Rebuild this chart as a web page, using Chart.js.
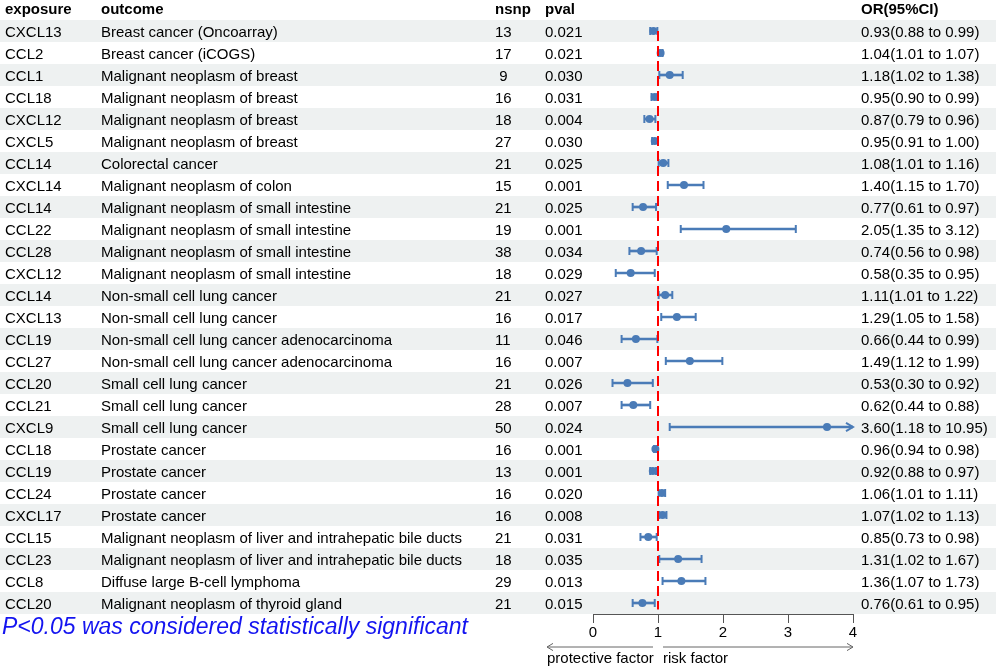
<!DOCTYPE html>
<html>
<head>
<meta charset="utf-8">
<title>Forest plot</title>
<script src="https://cdn.jsdelivr.net/npm/chart.js@4.4.1/dist/chart.umd.min.js"></script>
<style>
  html, body { margin: 0; padding: 0; background: #fff; }
  canvas { display: block; }
</style>
</head>
<body>
<canvas id="forest" width="996" height="670"></canvas>
<script>
// Table data (one entry per row, top to bottom)
const exposure = ["CXCL13", "CCL2", "CCL1", "CCL18", "CXCL12", "CXCL5", "CCL14", "CXCL14", "CCL14",
    "CCL22", "CCL28", "CXCL12", "CCL14", "CXCL13", "CCL19", "CCL27", "CCL20", "CCL21", "CXCL9",
    "CCL18", "CCL19", "CCL24", "CXCL17", "CCL15", "CCL23", "CCL8", "CCL20"];
const outcome = [
    "Breast cancer (Oncoarray)", "Breast cancer (iCOGS)",
    "Malignant neoplasm of breast", "Malignant neoplasm of breast", "Malignant neoplasm of breast",
    "Malignant neoplasm of breast", "Colorectal cancer", "Malignant neoplasm of colon",
    "Malignant neoplasm of small intestine", "Malignant neoplasm of small intestine",
    "Malignant neoplasm of small intestine", "Malignant neoplasm of small intestine",
    "Non-small cell lung cancer", "Non-small cell lung cancer",
    "Non-small cell lung cancer adenocarcinoma", "Non-small cell lung cancer adenocarcinoma",
    "Small cell lung cancer", "Small cell lung cancer", "Small cell lung cancer",
    "Prostate cancer", "Prostate cancer", "Prostate cancer", "Prostate cancer",
    "Malignant neoplasm of liver and intrahepatic bile ducts",
    "Malignant neoplasm of liver and intrahepatic bile ducts",
    "Diffuse large B-cell lymphoma", "Malignant neoplasm of thyroid gland"];
const nsnp = [13, 17, 9, 16, 18, 27, 21, 15, 21, 19, 38, 18, 21, 16, 11, 16, 21, 28, 50, 16, 13, 16, 16, 21, 18, 29, 21];
const pval = [0.021, 0.021, 0.030, 0.031, 0.004, 0.030, 0.025, 0.001, 0.025, 0.001, 0.034, 0.029, 0.027, 0.017,
    0.046, 0.007, 0.026, 0.007, 0.024, 0.001, 0.001, 0.020, 0.008, 0.031, 0.035, 0.013, 0.015];
const oddsRatio = [0.93, 1.04, 1.18, 0.95, 0.87, 0.95, 1.08, 1.40, 0.77, 2.05, 0.74, 0.58, 1.11, 1.29,
    0.66, 1.49, 0.53, 0.62, 3.60, 0.96, 0.92, 1.06, 1.07, 0.85, 1.31, 1.36, 0.76];
const lower = [0.88, 1.01, 1.02, 0.90, 0.79, 0.91, 1.01, 1.15, 0.61, 1.35, 0.56, 0.35, 1.01, 1.05,
    0.44, 1.12, 0.30, 0.44, 1.18, 0.94, 0.88, 1.01, 1.02, 0.73, 1.02, 1.07, 0.61];
const upper = [0.99, 1.07, 1.38, 0.99, 0.96, 1.00, 1.16, 1.70, 0.97, 3.12, 0.98, 0.95, 1.22, 1.58,
    0.99, 1.99, 0.92, 0.88, 10.95, 0.98, 0.97, 1.11, 1.13, 0.98, 1.67, 1.73, 0.95];
const headers = ["exposure", "outcome", "nsnp", "pval", "OR(95%CI)"];
const xTicks = [0, 1, 2, 3, 4];
const refValue = 1;
const note = "P<0.05 was considered statistically significant";

// Styles
const FONT = '"Liberation Sans", Arial, Helvetica, sans-serif';
const BLUE = "#4a7bb7";
const BAND = "#eef1f1";
const colX = [5, 101, 495, 545, 861];

Chart.defaults.font.family = FONT;

function arrow(ctx, x0, y0, x1, y1, size) {
    const dir = Math.sign(x1 - x0);
    ctx.beginPath();
    ctx.moveTo(x0, y0);
    ctx.lineTo(x1, y1);
    ctx.moveTo(x1 - dir * size, y1 - size * 0.6);
    ctx.lineTo(x1, y1);
    ctx.lineTo(x1 - dir * size, y1 + size * 0.6);
    ctx.stroke();
}

const tablePlugin = {
    id: "table",
    beforeDraw(chart) {
        const {ctx, width, height, scales: {y}} = chart;
        ctx.save();
        ctx.fillStyle = "#fff";
        ctx.fillRect(0, 0, width, height);
        ctx.fillStyle = BAND;
        for (let i = 0; i < exposure.length; i += 2) {
            const t = y.getPixelForValue(i + 0.5);
            const b = y.getPixelForValue(i + 1.5);
            ctx.fillRect(0, t, width, b - t);
        }
        ctx.restore();
    },
    afterDraw(chart) {
        const {ctx, scales: {x, y}} = chart;
        ctx.save();
        ctx.fillStyle = "#000";
        ctx.textBaseline = "alphabetic";

        // header
        ctx.font = "bold 15px " + FONT;
        const hy = y.getPixelForValue(0) + 4.5;
        headers.forEach((h, k) => ctx.fillText(h, colX[k], hy));

        // rows
        ctx.font = "15px " + FONT;
        exposure.forEach((e, i) => {
            const ry = y.getPixelForValue(i + 1) + 5.5;
            const ci = oddsRatio[i].toFixed(2) + "(" + lower[i].toFixed(2) + " to " + upper[i].toFixed(2) + ")";
            ctx.fillText(e, colX[0], ry);
            ctx.fillText(outcome[i], colX[1], ry);
            ctx.fillText(String(nsnp[i]).padStart(2, " "), colX[2], ry);
            ctx.fillText(pval[i].toFixed(3), colX[3], ry);
            ctx.fillText(ci, colX[4], ry);
        });

        // arrowheads for intervals running past the axis
        ctx.strokeStyle = BLUE;
        ctx.lineWidth = 2;
        upper.forEach((u, i) => {
            if (u > x.max) {
                const ry = y.getPixelForValue(i + 1);
                arrow(ctx, x.right - 2, ry, x.right, ry, 7);
            }
        });

        // direction arrows under the axis
        const x1 = x.getPixelForValue(refValue);
        ctx.strokeStyle = "#666";
        ctx.lineWidth = 1;
        arrow(ctx, x1 - 5, x.top + 33, x1 - 111, x.top + 33, 6);
        arrow(ctx, x1 + 5, x.top + 33, x.right, x.top + 33, 6);
        ctx.fillText("protective factor", x1 - 111, x.top + 49);
        ctx.fillText("risk factor", x1 + 5, x.top + 49);

        // note
        ctx.font = "italic 23px " + FONT;
        ctx.fillStyle = "#1414f0";
        ctx.fillText(note, 2, x.top + 20);
        ctx.restore();
    }
};

const rows = exposure.map((e, i) => i);
const caps = rows.flatMap(i => [{x: lower[i], y: i + 1}, {x: upper[i], y: i + 1}]);

let forest = new Chart(
    document.querySelector("#forest").getContext("2d"),
    {
        type: "scatter",
        data: {
            datasets: [
                {
                    type: "line",
                    data: [{x: refValue, y: 1}, {x: refValue, y: exposure.length + 0.3}],
                    borderColor: "#ff0000",
                    borderWidth: 2,
                    borderDash: [10, 5],
                    pointRadius: 0,
                    order: 0
                },
                {
                    type: "bar",
                    indexAxis: "y",
                    data: rows.map(i => ({x: [lower[i], upper[i]], y: i + 1})),
                    backgroundColor: BLUE,
                    borderWidth: 0,
                    barThickness: 2,
                    clip: 0,
                    order: 3
                },
                {
                    type: "scatter",
                    data: caps,
                    pointStyle: "line",
                    pointRotation: 90,
                    pointRadius: 4,
                    pointBorderColor: BLUE,
                    pointBorderWidth: 2,
                    clip: 0,
                    order: 2
                },
                {
                    type: "scatter",
                    data: rows.map(i => ({x: oddsRatio[i], y: i + 1})),
                    pointStyle: "circle",
                    pointRadius: 4,
                    pointBackgroundColor: BLUE,
                    pointBorderWidth: 0,
                    clip: 0,
                    order: 1
                }
            ]
        },
        options: {
            responsive: false,
            animation: false,
            events: [],
            layout: {padding: {left: 593, right: 143, top: 20, bottom: 0}},
            plugins: {legend: {display: false}, tooltip: {enabled: false}},
            scales: {
                x: {
                    type: "linear",
                    min: 0,
                    max: 4,
                    offset: false,
                    beginAtZero: false,
                    grid: {drawOnChartArea: false, drawTicks: true, tickLength: 9, tickColor: "#555"},
                    border: {display: true, color: "#555", width: 1},
                    ticks: {font: {size: 15}, color: "#000", padding: 1, maxRotation: 0},
                    afterBuildTicks: s => { s.ticks = xTicks.map(v => ({value: v})); },
                    afterFit: s => { s.height = 56; }
                },
                y: {
                    type: "linear",
                    min: 0.5,
                    max: exposure.length + 0.5,
                    reverse: true,
                    display: false,
                    offset: false,
                    grid: {offset: false}
                }
            }
        },
        plugins: [tablePlugin]
    }
);
</script>
</body>
</html>
